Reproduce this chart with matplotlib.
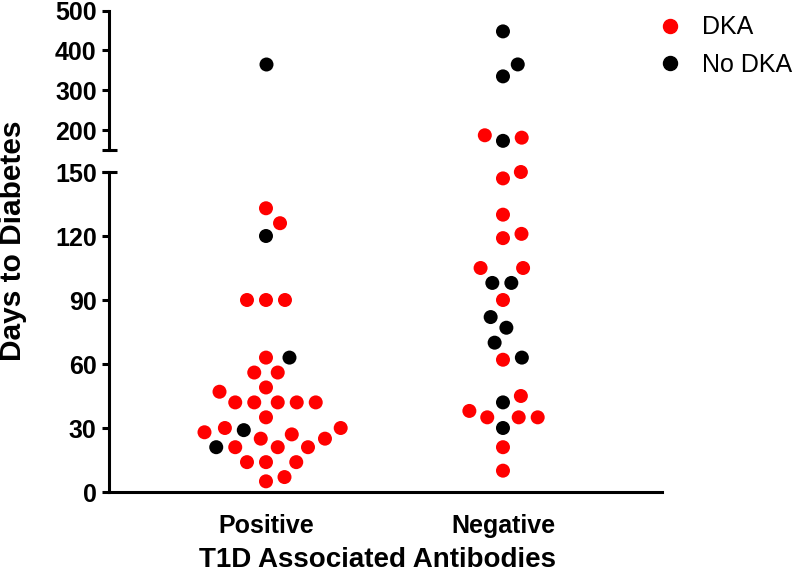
import numpy as np
import matplotlib
matplotlib.use('Agg')
import matplotlib.pyplot as plt
from matplotlib.lines import Line2D

plt.rcParams['font.family'] = ['Liberation Sans', 'DejaVu Sans']

# データ
groups = ['Positive', 'Negative']
pos_dka = [133, 126, 90, 90, 90, 63, 56, 56, 49, 47, 42, 42, 42, 42, 42, 35,
           30, 28, 30, 25, 27, 25, 21, 21, 21, 14, 14, 14, 7, 5]
pos_nodka = [365, 120, 63, 29, 21]
neg_dka = [187, 181, 150, 147, 130, 121, 119, 105, 105, 90, 62, 45, 38, 35,
           35, 35, 21, 10]
neg_nodka = [448, 365, 335, 173, 98, 98, 82, 77, 70, 63, 42, 30]
lower_ticks = [0, 30, 60, 90, 120, 150]
upper_ticks = [200, 300, 400, 500]
legend_labels = ['DKA', 'No DKA']

BREAK = 150
DKA_COLOR = '#ff0000'
NODKA_COLOR = '#000000'
DIAM_PX = 14.0     # マーカーの直径
SPACING_PX = 19.0  # 配置時の最小間隔


def swarm_offsets(py, diam):
    """ピクセル空間で簡単なビースウォーム配置を計算（下から順に配置）"""
    out = np.zeros(len(py))
    placed = []
    for i in np.argsort(py, kind='stable'):
        y = py[i]
        near = [(x0, y0) for x0, y0 in placed if abs(y0 - y) < diam]
        cands = [0.0]
        for x0, y0 in near:
            dx = np.sqrt(diam ** 2 - (y0 - y) ** 2)
            cands += [x0 - dx, x0 + dx]
        cands.sort(key=lambda c: (round(abs(c), 6), -c))
        for c in cands:
            if all((c - x0) ** 2 + (y - y0) ** 2 >= diam ** 2 - 1e-6 for x0, y0 in near):
                out[i] = c
                break
        placed.append((out[i], y))
    return out


fig = plt.figure(figsize=(8, 5.73), dpi=100)
W, H = 800, 573
ax_top = fig.add_axes([109 / W, 1 - 150 / H, 553 / W, (150 - 10.7) / H])
ax_bot = fig.add_axes([109 / W, 1 - 492 / H, 553 / W, (492 - 172) / H])

for ax in (ax_top, ax_bot):
    ax.set_xlim(-0.6624, 1.671)
ax_top.set_ylim(BREAK, 500)
ax_bot.set_ylim(0, BREAK)

px_per_x = ax_bot.transData.transform((1, 0))[0] - ax_bot.transData.transform((0, 0))[0]

for gi, (dka, nodka) in enumerate([(pos_dka, pos_nodka), (neg_dka, neg_nodka)]):
    vals = np.array(dka + nodka, dtype=float)
    cols = np.array([DKA_COLOR] * len(dka) + [NODKA_COLOR] * len(nodka))
    upper = vals > BREAK
    py = np.array([(ax_top if u else ax_bot).transData.transform((gi, v))[1]
                   for v, u in zip(vals, upper)])
    xs = gi + swarm_offsets(py, SPACING_PX) / px_per_x
    for ax, mask in ((ax_top, upper), (ax_bot, ~upper)):
        ax.scatter(xs[mask], vals[mask], s=(DIAM_PX * 72 / 100) ** 2,
                   c=cols[mask], linewidths=0, clip_on=False, zorder=3)

# 軸の装飾
lw = 2.2
ax_top.spines[['top', 'right', 'bottom']].set_visible(False)
ax_top.xaxis.set_visible(False)
ax_bot.spines[['top', 'right']].set_visible(False)
for ax in (ax_top, ax_bot):
    for sp in ax.spines.values():
        sp.set_linewidth(lw)
    ax.tick_params(axis='y', length=5.3, width=lw, labelsize=18, pad=3.6)
    # 軸の切れ目のキャップ
    ax.plot([-7.5 / 553, 8 / 553], [BREAK, BREAK], transform=ax.get_yaxis_transform(),
            color='black', lw=lw, clip_on=False, solid_capstyle='butt')

ax_top.set_yticks(upper_ticks)
ax_bot.set_yticks(lower_ticks)
ax_bot.set_xticks(range(len(groups)))
ax_bot.set_xticklabels(groups)
ax_bot.tick_params(axis='x', length=0, labelsize=18, pad=16)
for ax in (ax_top, ax_bot):
    for lab in ax.get_yticklabels() + ax.get_xticklabels():
        lab.set_fontweight('bold')

fig.text(13 / W, 1 - 241 / H, 'Days to Diabetes', rotation=90, ha='center',
         va='center', fontsize=21.5, fontweight='bold')
fig.text(377.5 / W, 1 - 566.7 / H, 'T1D Associated Antibodies', ha='center',
         va='baseline', fontsize=20, fontweight='bold')

handles = [Line2D([], [], marker='o', linestyle='', color=c, markersize=DIAM_PX * 0.72)
           for c in (DKA_COLOR, NODKA_COLOR)]
fig.legend(handles, legend_labels, loc='upper left', bbox_to_anchor=(657.5 / W, 1 - 15.5 / H),
           frameon=False, fontsize=18, borderpad=0, handlelength=1.0,
           handletextpad=0.78, labelspacing=0.52, borderaxespad=0)

fig.savefig('out.png', dpi=100)
plt.close(fig)
